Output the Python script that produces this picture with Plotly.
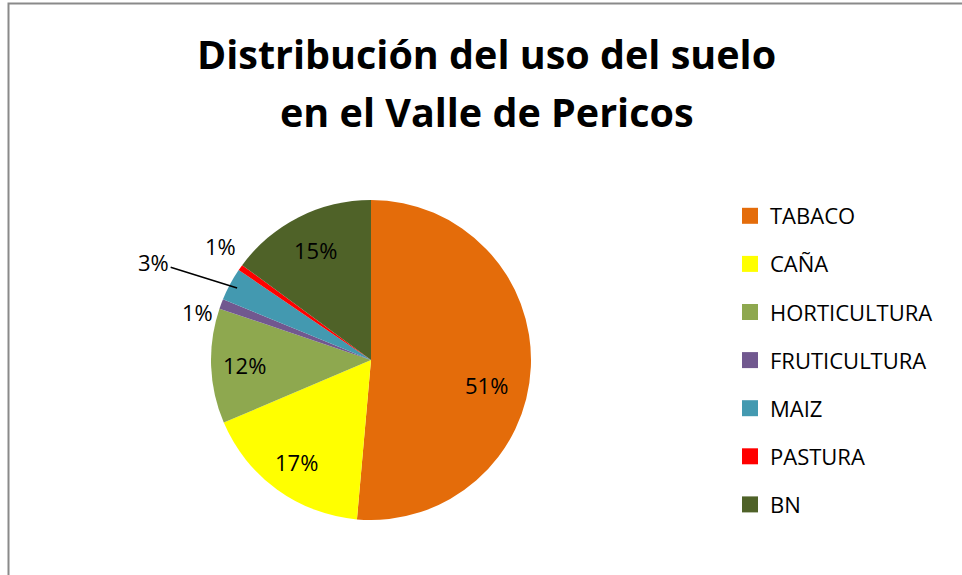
import math
import plotly.graph_objects as go

categories = ["TABACO", "CAÑA", "HORTICULTURA", "FRUTICULTURA", "MAIZ", "PASTURA", "BN"]
values = [51.4, 17.2, 11.6, 1.0, 3.3, 0.6, 14.9]
colors = ["#E46C0A", "#FFFF00", "#8EA84F", "#71588F", "#4399B0", "#FF0000", "#4F6228"]
title_lines = ["Distribución del uso del suelo", "en el Valle de Pericos"]

# label placement style (radius as fraction of pie radius, angular nudge in degrees)
label_radius = [0.74, 0.79, 0.79, 1.125, 1.49, 1.18, 0.77]
label_nudge = [9.5, 0, 0, -5, -4, 1.7, 0]
leader_line = [False, False, False, False, True, False, False]

W, H = 962, 575
FONT = "Open Sans"
CX, CY, R = 371, 360, 160  # pie centre / radius in pixels


def px(x, y):
    return x / W, 1 - y / H


fig = go.Figure()

fig.add_trace(go.Pie(
    labels=categories,
    values=values,
    sort=False,
    direction="clockwise",
    rotation=0,
    marker=dict(colors=colors, line=dict(width=0)),
    textinfo="none",
    showlegend=False,
    hoverinfo="label+percent",
    domain=dict(x=[(CX - R) / W, (CX + R) / W], y=[1 - (CY + R) / H, 1 - (CY - R) / H]),
))

for cat, col in zip(categories, colors):
    fig.add_trace(go.Scatter(
        x=[None], y=[None], mode="markers", name=cat, legendgroup=cat,
        marker=dict(symbol="square", size=18, color=col),
        showlegend=True,
    ))

annotations = []
total = sum(values)
cum = 0.0
for v, rf, nd, lead in zip(values, label_radius, label_nudge, leader_line):
    mid = math.radians((cum + v / 2) / total * 360)
    cum += v
    pct = f"{round(v / total * 100):d}%"
    ang = mid + math.radians(nd)
    lx = CX + rf * R * math.sin(ang)
    ly = CY - rf * R * math.cos(ang)
    if lead:
        tx = CX + 0.95 * R * math.sin(mid)
        ty = CY - 0.95 * R * math.cos(mid)
        x, y = px(tx, ty)
        annotations.append(dict(
            text=pct, x=x, y=y, xref="paper", yref="paper",
            showarrow=True, ax=lx - tx, ay=ly - ty, arrowhead=0,
            arrowwidth=1.5, arrowcolor="#000000", standoff=0, startstandoff=0,
            font=dict(family=FONT, size=22, color="#000000"),
        ))
    else:
        x, y = px(lx, ly)
        annotations.append(dict(
            text=pct, x=x, y=y, xref="paper", yref="paper",
            xanchor="center", yanchor="middle", showarrow=False,
            font=dict(family=FONT, size=22, color="#000000"),
        ))

for line, yc in zip(title_lines, [54, 112]):
    x, y = px(487, yc)
    annotations.append(dict(
        text=line, x=x, y=y, xref="paper", yref="paper",
        xanchor="center", yanchor="middle", showarrow=False,
        font=dict(family=FONT, size=39.5, color="#000000", weight=700),
    ))

lx0, ly0 = px(730, 195)
fig.update_layout(
    width=W, height=H,
    margin=dict(l=0, r=0, t=0, b=0),
    paper_bgcolor="white", plot_bgcolor="white",
    xaxis=dict(visible=False), yaxis=dict(visible=False),
    legend=dict(
        x=lx0, y=ly0, xanchor="left", yanchor="top",
        font=dict(family=FONT, size=22, color="#000000"),
        tracegroupgap=16.5,
        bgcolor="rgba(0,0,0,0)",
    ),
    shapes=[dict(
        type="rect", xref="paper", yref="paper",
        x0=8.5 / W, x1=1.2, y0=-0.2, y1=1 - 3.5 / H,
        line=dict(color="#8A8A8A", width=2),
    )],
    annotations=annotations,
)

fig.write_html("out.html", config={"displayModeBar": False},
               post_script="document.body.style.margin='0';")
